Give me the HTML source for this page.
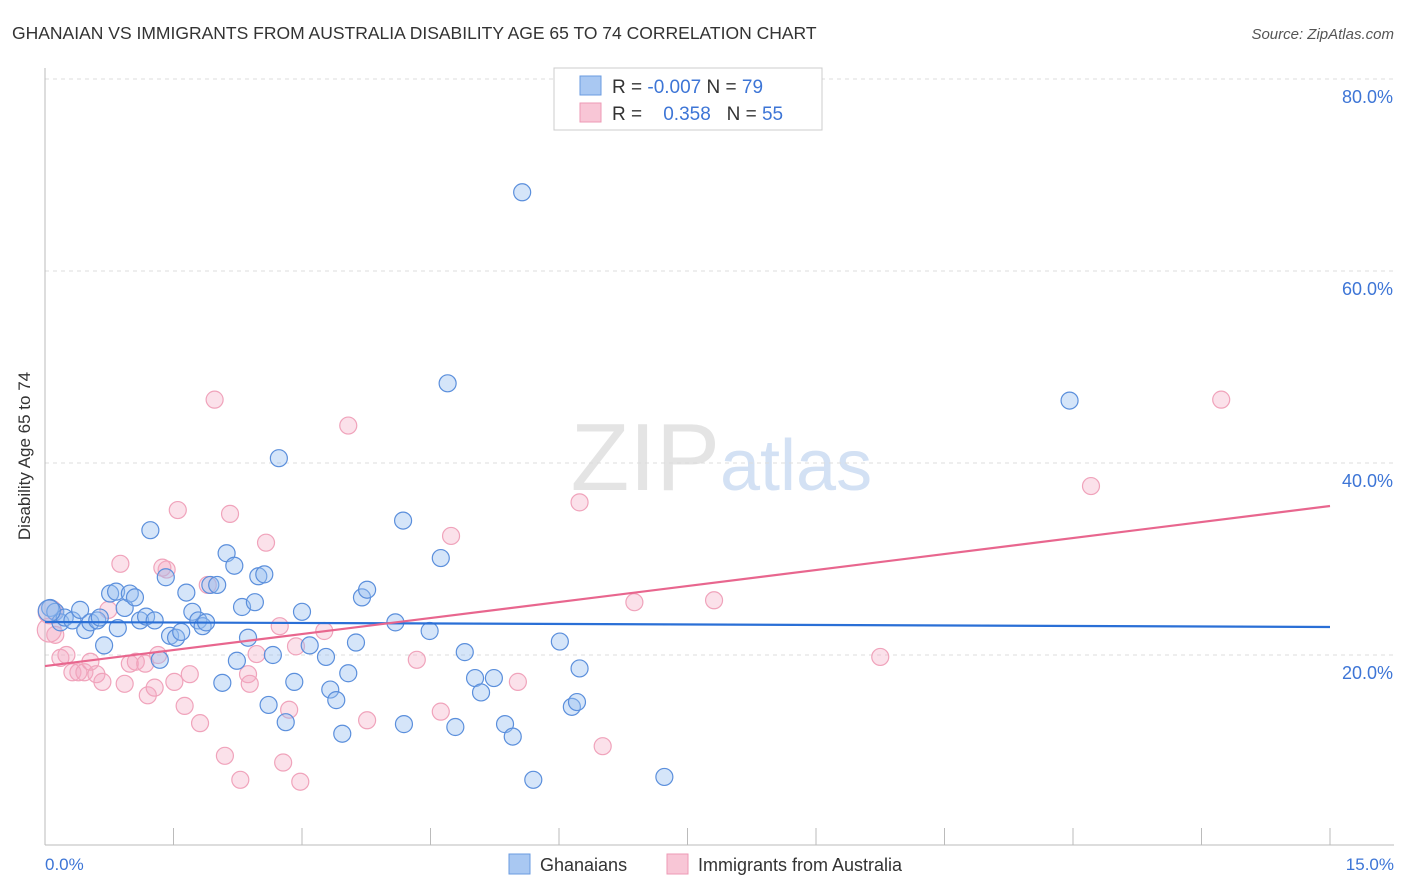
<!DOCTYPE html>
<html><head><meta charset="utf-8">
<style>
body{margin:0;background:#fff;font-family:"Liberation Sans",sans-serif;}
#wrap{position:relative;width:1406px;height:892px;overflow:hidden;}
svg text{font-family:"Liberation Sans",sans-serif;}
</style></head>
<body><div id="wrap">
<svg id="chart" width="1406" height="892">
<text x="12" y="39" font-size="17.5" fill="#333">GHANAIAN VS IMMIGRANTS FROM AUSTRALIA DISABILITY AGE 65 TO 74 CORRELATION CHART</text>
<text x="1394" y="39" font-size="15" fill="#555" font-style="italic" text-anchor="end">Source: ZipAtlas.com</text>
<text x="720" y="490" font-size="96" fill="#e4e4e4" font-family="Liberation Serif" text-anchor="end">ZIP</text>
<text x="720" y="490" font-size="72" fill="#d3e1f4">atlas</text>
<g id="grid"></g>
<line x1="45" y1="68" x2="45" y2="845" stroke="#bbb"/>
<line x1="45" y1="845" x2="1394" y2="845" stroke="#bbb"/>
<g id="xticks"></g>
<text x="30" y="456" font-size="17" fill="#333" text-anchor="middle" transform="rotate(-90 30 456)">Disability Age 65 to 74</text>
<text x="45" y="870" font-size="17" fill="#3d75d6">0.0%</text>
<text x="1394" y="870" font-size="17" fill="#3d75d6" text-anchor="end">15.0%</text>
<g id="pink"></g><g id="blue"></g><g id="trends"></g>
<g>
<rect x="554" y="68" width="268" height="62" fill="#fff" stroke="#ccc"/>
<rect x="580" y="76" width="21" height="19" fill="#a9c8f2" stroke="#6a9be0"/>
<rect x="580" y="103" width="21" height="19" fill="#f8c6d6" stroke="#ee9ab5"/>
<text x="612" y="93" font-size="19" fill="#333">R = <tspan fill="#3d75d6">-0.007</tspan>   N = <tspan fill="#3d75d6">79</tspan></text>
<text x="612" y="120" font-size="19" fill="#333" xml:space="preserve">R =    <tspan fill="#3d75d6">0.358</tspan>   N = <tspan fill="#3d75d6">55</tspan></text>
</g>
<g>
<rect x="509" y="854" width="21" height="20" fill="#a9c8f2" stroke="#6a9be0"/>
<text x="540" y="871" font-size="18" fill="#333">Ghanaians</text>
<rect x="667" y="854" width="21" height="20" fill="#f8c6d6" stroke="#ee9ab5"/>
<text x="698" y="871" font-size="18" fill="#333">Immigrants from Australia</text>
</g>
</svg>
<script>
const yTicks=[20,40,60,80];
const yTickLabels=["20.0%","40.0%","60.0%","80.0%"];
const xTicks=[1.5,3,4.5,6,7.5,9,10.5,12,13.5,15];
const blueX=[.06,.12,.18,.23,.32,.41,.47,.53,.61,.64,.69,.76,.83,.85,.93,.99,1.05,1.11,1.18,1.23,1.28,1.34,1.41,1.46,1.53,1.59,1.65,1.72,1.79,1.84,1.88,1.93,2.01,2.07,2.12,2.21,2.24,2.30,2.37,2.45,2.49,2.56,2.61,2.66,2.73,2.81,2.91,3.00,3.09,3.28,3.33,3.40,3.47,3.54,3.63,3.70,3.76,4.09,4.18,4.19,4.49,4.62,4.70,4.79,4.90,5.02,5.09,5.24,5.37,5.46,5.57,5.70,6.01,6.15,6.21,6.24,7.23,11.96,.05];
const blueY=[24.9,24.5,23.4,23.9,23.6,24.7,22.6,23.4,23.6,23.9,21.0,26.4,26.6,22.8,24.9,26.4,26.0,23.6,24.0,33.0,23.6,19.5,28.1,22.0,21.8,22.4,26.5,24.5,23.6,23.0,23.4,27.3,27.3,17.1,30.6,29.3,19.4,25.0,21.8,25.5,28.2,28.4,14.8,20.0,40.5,13.0,17.2,24.5,21.0,19.8,16.4,15.3,11.8,18.1,21.3,26.0,26.8,23.4,34.0,12.8,22.5,30.1,48.3,12.5,20.3,17.6,16.1,17.6,12.8,11.5,68.2,7.0,21.4,14.6,15.1,18.6,7.3,46.5,24.6];
const pinkX=[.06,.12,.18,.25,.32,.39,.46,.53,.60,.67,.74,.88,.93,.99,1.06,1.17,1.20,1.28,1.32,1.42,1.51,1.55,1.63,1.69,1.81,1.90,1.98,2.10,2.16,2.28,2.37,2.39,2.47,2.58,2.74,2.78,2.85,2.93,2.98,3.26,3.54,3.76,4.34,4.62,4.74,5.52,6.24,6.51,6.88,7.81,9.75,12.21,13.73,1.37,.05];
const pinkY=[24.5,22.1,19.7,20.0,18.2,18.2,18.2,19.3,18.0,17.2,24.7,29.5,17.0,19.1,19.3,19.1,15.8,16.6,20.0,28.9,17.2,35.1,14.7,18.0,12.9,27.3,46.6,9.5,34.7,7.0,18.0,17.0,20.1,31.7,23.0,8.8,14.3,20.9,6.8,22.5,43.9,13.2,19.5,14.1,32.4,17.2,35.9,10.5,25.5,25.7,19.8,37.6,46.6,29.1,22.6];
const blueTrend=[23.44,22.92];
const pinkTrend=[18.85,35.52];
const NS="http://www.w3.org/2000/svg";
const X0=45,X1=1330,Y0=847,YS=9.6;
const sx=v=>X0+v*(X1-X0)/15, sy=v=>Y0-v*YS;
function mk(t,a,p){const e=document.createElementNS(NS,t);for(const k in a)e.setAttribute(k,a[k]);document.getElementById(p).appendChild(e);return e;}
yTicks.forEach((v,i)=>{
 const l=mk('line',{x1:45,x2:1394,y1:sy(v),y2:sy(v),stroke:'#ddd','stroke-dasharray':'4,4'},'grid');
 
 
 const t=mk('text',{x:1393,y:sy(v)+24,'font-size':18,fill:'#3d75d6','text-anchor':'end'},'grid');
 t.textContent=yTickLabels[i];
 
 
});
xTicks.forEach(v=>{
 const l=mk('line',{x1:sx(v),x2:sx(v),y1:828,y2:845,stroke:'#bbb'},'xticks');
 
 
});
pinkX.forEach((v,i)=>{
 const c=mk('circle',{cx:sx(v),cy:sy(pinkY[i]),r:(i==0||i==54)?12:8.5,fill:'rgba(244,168,194,0.35)',stroke:'#f0a3bb','stroke-width':1.2},'pink');
 
 
});
blueX.forEach((v,i)=>{
 const c=mk('circle',{cx:sx(v),cy:sy(blueY[i]),r:i==78?11:8.5,fill:'rgba(150,190,240,0.4)',stroke:'#5b8fdc','stroke-width':1.2},'blue');
 
 
});
const bl=mk('line',{x1:sx(0),x2:sx(15),y1:sy(blueTrend[0]),y2:sy(blueTrend[1]),stroke:'#2a6fd6','stroke-width':2.2},'trends');


const pl=mk('line',{x1:sx(0),x2:sx(15),y1:sy(pinkTrend[0]),y2:sy(pinkTrend[1]),stroke:'#e8668e','stroke-width':2.2},'trends');


</script>
</div></body></html>
